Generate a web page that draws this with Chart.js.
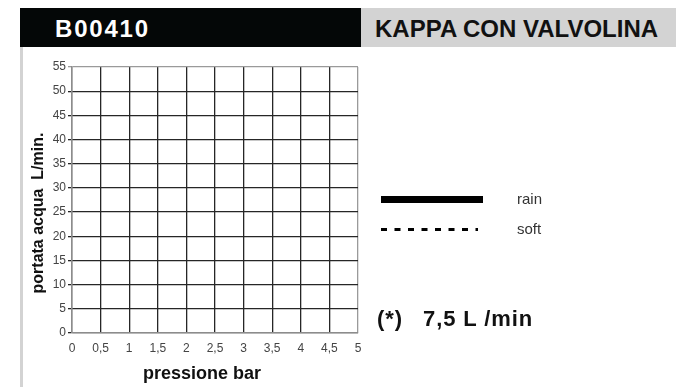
<!DOCTYPE html>
<html>
<head>
<meta charset="utf-8">
<script src="https://cdn.jsdelivr.net/npm/chart.js@4/dist/chart.umd.min.js"></script>
<style>
  html, body { margin: 0; padding: 0; background: #fff; }
  body { width: 678px; height: 387px; position: relative; overflow: hidden; font-family: "Liberation Sans", Arial, sans-serif; }
  #wrap { position: absolute; left: 0; top: 0; width: 678px; height: 387px; }
  .bar { position: absolute; top: 8px; height: 39px; }
  #code { left: 20px; width: 341px; background: #040707; }
  #name { left: 361px; width: 315px; background: #d3d3d3; }
  .head { position: absolute; top: 17px; font-weight: bold; font-size: 24px; line-height: 24px; white-space: pre; }
  #codeTxt { left: 55px; color: #fff; letter-spacing: 1.8px; }
  #nameTxt { left: 375px; color: #111; }
  #side { position: absolute; left: 20px; top: 47px; width: 3px; height: 340px; background: #d3d3d3; }
  .note { position: absolute; top: 309px; font-weight: bold; font-size: 22px; line-height: 20px; color: #111; white-space: pre; letter-spacing: 0.9px; }
</style>
</head>
<body>
<div class="bar" id="code"></div>
<div class="bar" id="name"></div>
<div class="head" id="codeTxt">B00410</div>
<div class="head" id="nameTxt">KAPPA CON VALVOLINA</div>
<div id="side"></div>
<div id="wrap"><canvas id="chart" width="678" height="387"></canvas></div>
<div class="note" style="left:377px">(*)</div>
<div class="note" style="left:423px">7,5 L /min</div>
<script>
// axis ticks
var xTicks = [0, 0.5, 1, 1.5, 2, 2.5, 3, 3.5, 4, 4.5, 5];
var xTickLabels = ['0', '0,5', '1', '1,5', '2', '2,5', '3', '3,5', '4', '4,5', '5'];
var yTicks = [0, 5, 10, 15, 20, 25, 30, 35, 40, 45, 50, 55];

// series (the sheet has no curves plotted yet)
var rainData = [];
var softData = [];

var FONT = '"Liberation Sans", Arial, sans-serif';

// legend + axis titles drawn by hand, the sheet puts them in odd places
const sheetExtras = {
    id: 'sheetExtras',
    afterDraw(chart) {
        const ctx = chart.ctx;
        ctx.save();
        // legend
        const rows = [199.5, 229.5];
        chart.data.datasets.forEach((ds, i) => {
            const y = rows[i];
            ctx.beginPath();
            ctx.strokeStyle = ds.borderColor;
            ctx.lineWidth = ds.borderWidth;
            ctx.setLineDash(ds.borderDash || []);
            ctx.moveTo(381, y);
            ctx.lineTo(i == 0 ? 483 : 478, y);
            ctx.stroke();
            ctx.setLineDash([]);
            ctx.fillStyle = '#333';
            ctx.font = '15px ' + FONT;
            ctx.textBaseline = 'middle';
            ctx.textAlign = 'left';
            ctx.fillText(ds.label, 517, y);
        });
        // axis titles
        ctx.fillStyle = '#111';
        ctx.font = 'bold 18px ' + FONT;
        ctx.textAlign = 'center';
        ctx.textBaseline = 'alphabetic';
        ctx.fillText('pressione bar', 202, 379);

        ctx.translate(43, 213);
        ctx.rotate(-Math.PI / 2);
        ctx.font = 'bold 16px ' + FONT;
        ctx.fillText('portata acqua  L/min.', 0, 0);
        ctx.restore();
    }
};

function gridColor(edge) {
    return function (c) {
        return c.tick && c.tick.value === edge ? '#9a9a9a' : '#262626';
    };
}

const cfg = {
    type: 'line',
    data: {
        datasets: [{
            label: 'rain',
            data: rainData,
            borderColor: '#000',
            borderWidth: 7,
            pointRadius: 0
        },
        {
            label: 'soft',
            data: softData,
            borderColor: '#000',
            borderWidth: 3,
            borderDash: [6, 7.5],
            pointRadius: 0
        }]
    },
    options: {
        responsive: false,
        animation: false,
        layout: { padding: { top: 67, right: 320, bottom: 0, left: 0 } },
        plugins: { legend: { display: false }, tooltip: { enabled: false } },
        scales: {
            x: {
                type: 'linear',
                min: 0,
                max: 5,
                afterBuildTicks: (s) => { s.ticks = xTicks.map(v => ({ value: v })); },
                afterFit: (s) => { s.height = 54; },
                ticks: {
                    autoSkip: false,
                    maxRotation: 0,
                    padding: 8,
                    color: '#444',
                    font: { family: FONT, size: 12 },
                    callback: (v, i) => xTickLabels[i]
                },
                grid: { color: gridColor(5), lineWidth: 1.3, drawTicks: false },
                border: { color: '#8c8c8c', width: 1.3 }
            },
            y: {
                min: 0,
                max: 55,
                afterBuildTicks: (s) => { s.ticks = yTicks.map(v => ({ value: v })); },
                afterFit: (s) => { s.width = 72; },
                ticks: {
                    autoSkip: false,
                    padding: 2,
                    color: '#444',
                    font: { family: FONT, size: 12 }
                },
                grid: { color: gridColor(55), lineWidth: 1.3, tickLength: 4 },
                border: { color: '#8c8c8c', width: 1.3 }
            }
        }
    },
    plugins: [sheetExtras]
};

const chart = new Chart(document.getElementById('chart').getContext('2d'), cfg);
</script>
</body>
</html>
